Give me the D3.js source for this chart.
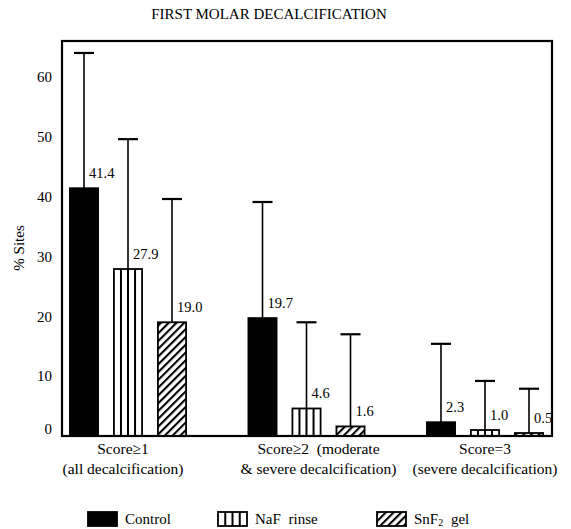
<!DOCTYPE html>
<html>
<head>
<meta charset="utf-8">
<script src="https://cdn.jsdelivr.net/npm/d3@7"></script>
<style>
  body { margin: 0; background: #fff; }
  svg text { font-family: "Liberation Serif", "DejaVu Serif", serif; fill: #000; }
</style>
</head>
<body>
<div id="chart"></div>
<script>
// data
const groups = ["g1", "g2", "g3"];
const catLine1 = ["Score≥1", "Score≥2  (moderate", "Score=3"];
const catLine2 = ["(all decalcification)", "& severe decalcification)", "(severe decalcification)"];
const series = ["Control", "NaF rinse", "SnF2 gel"];
const controlVals = [41.4, 19.7, 2.3];
const nafVals = [27.9, 4.6, 1.0];
const snfVals = [19.0, 1.6, 0.5];
// standard deviations (error bar length)
const controlSD = [22.6, 19.4, 13.1];
const nafSD = [21.7, 14.4, 8.2];
const snfSD = [20.6, 15.4, 7.4];
const yTicks = [0, 10, 20, 30, 40, 50, 60];

const W = 571, H = 529;
const margin = { top: 41, right: 19, bottom: 93, left: 62 };
const serif = "'Liberation Serif', 'DejaVu Serif', serif";

const svg = d3.select("#chart").append("svg")
  .attr("width", W).attr("height", H)
  .attr("font-family", serif);

const defs = svg.append("defs");
const hatch = defs.append("pattern")
  .attr("id", "hatch")
  .attr("patternUnits", "userSpaceOnUse")
  .attr("width", 5.5).attr("height", 5.5)
  .attr("patternTransform", "rotate(45)");
hatch.append("rect").attr("width", 5.5).attr("height", 5.5).attr("fill", "#fff");
hatch.append("line")
  .attr("x1", 1).attr("y1", 0).attr("x2", 1).attr("y2", 5.5)
  .attr("stroke", "#000").attr("stroke-width", 2.2);

const rows = series.map((s, i) => ({
  name: s,
  vals: [controlVals, nafVals, snfVals][i],
  sd: [controlSD, nafSD, snfSD][i]
}));
const data = [];
groups.forEach((g, gi) => {
  rows.forEach((r, si) => {
    data.push({ group: g, series: r.name, si: si, value: r.vals[gi], sd: r.sd[gi] });
  });
});

// scales
const y = d3.scaleLinear().domain([0, 66]).range([H - margin.bottom, margin.top]);
const x0 = d3.scalePoint().domain(groups).range([128, 485]);
const x1 = d3.scaleBand().domain(series).range([-66, 66])
  .paddingInner(0.36).paddingOuter(0.18);

// title
svg.append("text")
  .attr("x", 269).attr("y", 19)
  .attr("text-anchor", "middle")
  .style("font-size", "15px")
  .text("FIRST MOLAR DECALCIFICATION");

// y axis labels (no tick marks)
const yAxis = svg.append("g")
  .attr("transform", `translate(${margin.left},0)`)
  .call(d3.axisLeft(y).tickValues(yTicks).tickSize(0).tickPadding(10));
yAxis.attr("font-family", null).attr("font-size", null);
yAxis.select(".domain").remove();
yAxis.selectAll("text")
  .style("font-size", "15px")
  .attr("dy", d => d === 0 ? "-0.2em" : "0.32em");

svg.append("text")
  .attr("transform", "translate(24,248) rotate(-90)")
  .attr("text-anchor", "middle")
  .style("font-size", "15px")
  .text("% Sites");

// bars
const fillFor = si => si === 0 ? "#000" : si === 1 ? "#fff" : "url(#hatch)";
const bars = svg.append("g").selectAll("g")
  .data(data).join("g");

bars.append("rect")
  .attr("x", d => x0(d.group) + x1(d.series))
  .attr("y", d => y(d.value))
  .attr("width", x1.bandwidth())
  .attr("height", d => y(0) - y(d.value))
  .attr("fill", d => fillFor(d.si))
  .attr("stroke", "#000")
  .attr("stroke-width", 1.8);

// vertical stripes for NaF
bars.filter(d => d.si === 1).each(function (d) {
  const g = d3.select(this);
  const bx = x0(d.group) + x1(d.series);
  [0.25, 0.5, 0.75].forEach(f => {
    g.append("line")
      .attr("x1", bx + f * x1.bandwidth()).attr("x2", bx + f * x1.bandwidth())
      .attr("y1", y(d.value)).attr("y2", y(0))
      .attr("stroke", "#000").attr("stroke-width", 2);
  });
});

// error bars
const cx = d => x0(d.group) + x1(d.series) + x1.bandwidth() / 2;
bars.append("line")
  .attr("x1", cx).attr("x2", cx)
  .attr("y1", d => y(d.value)).attr("y2", d => y(d.value + d.sd))
  .attr("stroke", "#000").attr("stroke-width", 1.6);
bars.append("line")
  .attr("x1", d => cx(d) - 10).attr("x2", d => cx(d) + 10)
  .attr("y1", d => y(d.value + d.sd)).attr("y2", d => y(d.value + d.sd))
  .attr("stroke", "#000").attr("stroke-width", 2.2);

// value labels
bars.append("text")
  .attr("x", d => cx(d) + 5)
  .attr("y", d => y(d.value) - 10)
  .style("font-size", "14.5px")
  .text(d => d.value.toFixed(1));

// frame
svg.append("rect")
  .attr("x", margin.left).attr("y", margin.top)
  .attr("width", W - margin.left - margin.right)
  .attr("height", H - margin.top - margin.bottom)
  .attr("fill", "none")
  .attr("stroke", "#000")
  .attr("stroke-width", 2.2);

// category labels
const shift = [-5, 12, 0];
const cats = svg.append("g").selectAll("g").data(groups).join("g");
cats.append("text")
  .attr("x", (d, i) => x0(d) + shift[i])
  .attr("y", 454)
  .attr("text-anchor", "middle")
  .style("font-size", "15.5px")
  .style("white-space", "pre")
  .text((d, i) => catLine1[i]);
cats.append("text")
  .attr("x", (d, i) => x0(d) + shift[i])
  .attr("y", 474)
  .attr("text-anchor", "middle")
  .style("font-size", "15.5px")
  .text((d, i) => catLine2[i]);

// legend
const legX = [88, 218, 377];
const leg = svg.append("g").selectAll("g").data(series).join("g")
  .attr("transform", (d, i) => `translate(${legX[i]},512)`);
leg.append("rect")
  .attr("width", 29).attr("height", 14)
  .attr("fill", (d, i) => fillFor(i))
  .attr("stroke", "#000").attr("stroke-width", 1.8);
leg.filter((d, i) => i === 1).each(function () {
  const g = d3.select(this);
  [7.25, 14.5, 21.75].forEach(px => {
    g.append("line").attr("x1", px).attr("x2", px).attr("y1", 0).attr("y2", 14)
      .attr("stroke", "#000").attr("stroke-width", 2);
  });
});
const legText = leg.append("text")
  .attr("x", 37).attr("y", 12)
  .style("font-size", "15px")
  .style("word-spacing", "4px");
legText.each(function (d) {
  const t = d3.select(this);
  if (d === "SnF2 gel") {
    t.append("tspan").text("SnF");
    t.append("tspan").style("font-size", "10px").attr("dy", 2).text("2");
    t.append("tspan").attr("dy", -2).text(" gel");
  } else {
    t.text(d);
  }
});
</script>
</body>
</html>
